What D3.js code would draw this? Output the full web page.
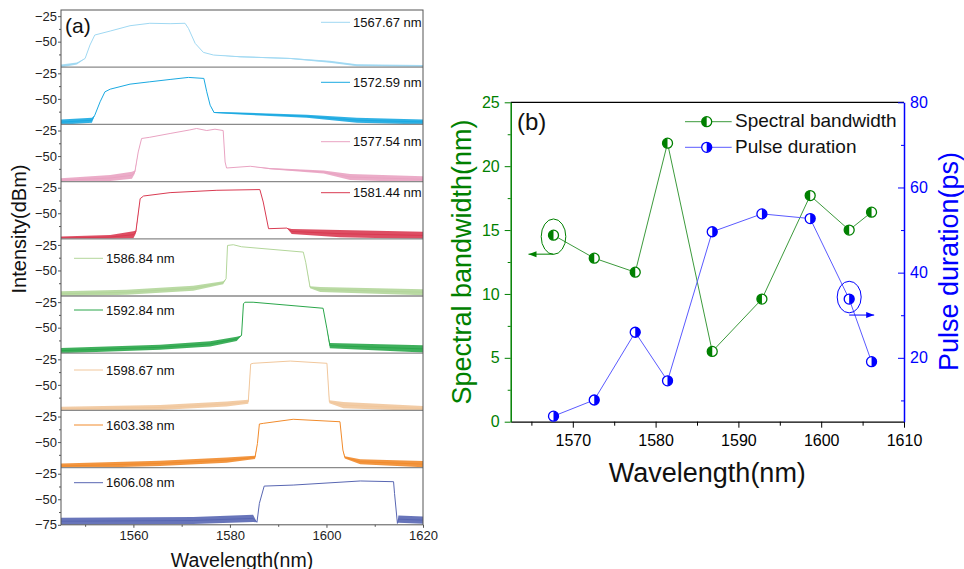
<!DOCTYPE html>
<html>
<head>
<meta charset="utf-8">
<script src="https://cdn.jsdelivr.net/npm/d3@7"></script>
<style>
body { margin: 0; background: #fff; }
svg { font-family: "Liberation Sans", Arial, sans-serif; }
</style>
</head>
<body>
<script>
// (a) spectra: [wavelength (nm), intensity (dBm), noise band width (dB)]
var spec1 = [[1545.0,-73.9,3],[1548.3,-71.3,2],[1550.0,-66.4,0],[1551.0,-53.3,0],[1552.0,-43.5,0],[1555.2,-39.6,0],
  [1559.3,-34.4,0],[1563.4,-32.0,0],[1567.6,-32.4,0],[1570.7,-32.0,0],[1571.4,-37.0,0],[1572.8,-51.7,0],
  [1574.5,-60.5,0],[1576.6,-63.1,0],[1582.1,-64.8,1],[1592.5,-66.4,1],[1600.7,-69.7,2],[1606.3,-73.0,2],[1620.0,-73.9,2]];
var spec2 = [[1545.0,-72.8,5],[1551.4,-70.9,5],[1552.0,-66.0,0],[1553.1,-52.9,0],[1554.1,-43.1,0],[1555.2,-40.5,0],
  [1559.3,-35.6,0],[1563.4,-33.3,0],[1567.6,-31.0,0],[1571.4,-29.0,0],[1574.6,-30.0,0],[1575.2,-43.1,0],
  [1575.9,-56.2,0],[1576.7,-63.3,1],[1582.1,-64.3,2],[1595.9,-67.0,3],[1606.3,-70.9,5],[1620.0,-72.6,5]];
var spec3 = [[1545.0,-73.7,4],[1555.2,-71.5,6],[1559.7,-68.8,7],[1560.3,-65.6,3],[1561.0,-46.0,0],[1561.7,-32.8,0],
  [1563.4,-31.6,0],[1567.6,-27.9,0],[1571.7,-24.4,0],[1573.1,-23.0,0],[1575.2,-25.0,0],[1576.9,-23.7,0],
  [1578.6,-25.0,0],[1579.0,-55.8,0],[1579.3,-61.7,0],[1584.2,-60.0,0],[1588.3,-62.3,1],[1599.4,-65.6,3],
  [1604.9,-70.5,6],[1620.0,-72.8,6]];
var spec4 = [[1545.0,-74.3,3],[1555.2,-73.3,4],[1560.0,-71.0,7],[1560.5,-68.4,3],[1561.4,-35.7,0],[1562.1,-33.1,0],
  [1567.6,-29.8,0],[1577.3,-27.5,0],[1586.2,-26.8,0],[1586.9,-39.0,0],[1588.0,-65.1,0],[1591.8,-64.5,0],
  [1592.8,-67.8,5],[1602.8,-70.0,7],[1620.0,-71.7,7]];
var spec5 = [[1545.0,-72.9,5],[1558.6,-71.3,5],[1572.4,-67.4,5],[1578.6,-62.1,3],[1579.2,-58.1,0],[1579.5,-25.5,0],
  [1580.7,-24.8,0],[1582.4,-26.8,0],[1595.2,-32.0,0],[1595.7,-41.9,0],[1596.6,-66.4,2],[1598.7,-68.6,5],
  [1620.0,-71.3,6]];
var spec6 = [[1545.0,-72.5,5],[1565.5,-69.2,5],[1575.9,-65.9,5],[1581.4,-61.0,4],[1582.4,-57.7,0],[1582.8,-26.7,0],
  [1583.1,-25.1,0],[1584.8,-25.1,0],[1599.3,-31.0,0],[1600.1,-51.2,0],[1600.7,-67.6,5],[1620.0,-70.8,7]];
var spec7 = [[1545.0,-73.5,4],[1565.5,-72.1,5],[1579.3,-68.8,5],[1583.8,-66.6,4],[1584.3,-29.6,0],[1584.8,-28.9,0],
  [1592.5,-26.7,0],[1600.1,-28.9,0],[1600.6,-66.6,3],[1603.5,-69.8,6],[1620.0,-73.1,5]];
var spec8 = [[1545.0,-73.5,5],[1565.5,-70.9,5],[1579.3,-67.7,5],[1585.2,-65.0,3],[1585.7,-51.3,0],[1586.1,-32.3,0],
  [1586.9,-31.7,0],[1593.1,-27.7,0],[1602.8,-30.1,0],[1603.4,-57.8,0],[1603.8,-65.0,2],[1607.0,-69.3,5],
  [1620.0,-71.6,6]];
var spec9 = [[1545.0,-71.5,7],[1572.4,-70.8,7],[1584.8,-68.7,7],[1585.6,-72.5,0],[1586.1,-54.0,0],[1587.1,-37.1,0],
  [1593.1,-36.1,0],[1607.0,-32.1,0],[1613.9,-32.8,0],[1614.1,-44.2,0],[1614.7,-73.6,0],[1614.9,-69.5,7],
  [1620.0,-70.4,7]];
var spectra = [spec1, spec2, spec3, spec4, spec5, spec6, spec7, spec8, spec9];
var specLabels = ["1567.67 nm", "1572.59 nm", "1577.54 nm", "1581.44 nm", "1586.84 nm",
  "1592.84 nm", "1598.67 nm", "1603.38 nm", "1606.08 nm"];
var intensityTicks = [-25, -50];
var intensityMinor = [-37.5, -62.5];
var wlTicksA = [1560, 1580, 1600, 1620];
var wlMinorA = [1550, 1570, 1590, 1610];

// (b) bandwidth and pulse duration against centre wavelength
var centerWl = [1567.67, 1572.59, 1577.54, 1581.44, 1586.84, 1592.84, 1598.67, 1603.38, 1606.08];
var bandwidth = [14.6, 12.8, 11.7, 21.8, 5.5, 9.6, 17.7, 15.0, 16.4];
var pulse = [6.3, 10.1, 26.0, 14.6, 49.6, 53.8, 52.7, 33.8, 19.1];
var bwTicks = [0, 5, 10, 15, 20, 25];
var bwMinor = [2.5, 7.5, 12.5, 17.5, 22.5];
var pulseTicks = [20, 40, 60, 80];
var pulseMinor = [10, 30, 50, 70];
var wlTicksB = [1570, 1580, 1590, 1600, 1610];
var wlMinorB = [1565, 1575, 1585, 1595, 1605];

// styles
var specColors = ["#9fd8f2", "#1aa9e1", "#e9a3c2", "#d93b52", "#b3d69a", "#2aa64a", "#f1c79c", "#f18b2c", "#5866b2"];
var legendRight = [true, true, true, true, false, false, false, false, false];
var legendDy = [12.3, 15.1, 17.3, 11.1, 19.5, 14, 16.8, 14.6, 15.1];
var green = "#008000", blue = "#0000ff";
var fmt = d3.format("d");

var w = 964, h = 569;
var svg = d3.select("body").append("svg").attr("width", w).attr("height", h);
var defs = svg.append("defs");

// ---------- panel (a) ----------
var aLeft = 61, aRight = 423, aTop = 10, panelH = 57.2;
var aBottom = aTop + panelH * spectra.length;
var xA = d3.scaleLinear().domain([1545, 1620]).range([aLeft, aRight]);

function styleTicks(g, size, color) {
  g.selectAll("text").attr("font-size", size).attr("font-family", "Liberation Sans, Arial, sans-serif").attr("fill", color);
  g.selectAll("line").attr("stroke", color);
}

spectra.forEach(function(spec, i) {
  var top = aTop + i * panelH;
  var y = d3.scaleLinear().domain([-75, -19]).range([top + panelH, top]);
  var col = specColors[i];

  defs.append("clipPath").attr("id", "clipA" + i)
    .append("rect").attr("x", aLeft).attr("y", top).attr("width", aRight - aLeft).attr("height", panelH);

  var g = svg.append("g").attr("clip-path", "url(#clipA" + i + ")");
  var band = d3.area()
    .x(function(d) { return xA(d[0]); })
    .y0(function(d) { return y(d[1] - d[2] / 2); })
    .y1(function(d) { return y(d[1] + d[2] / 2); });
  g.append("path").datum(spec).attr("d", band).attr("fill", col).attr("opacity", 0.9);
  var line = d3.line()
    .x(function(d) { return xA(d[0]); })
    .y(function(d) { return y(d[1]); });
  g.append("path").datum(spec).attr("d", line)
    .attr("fill", "none").attr("stroke", col).attr("stroke-width", 1);

  // left axis of this strip
  var ticks = i === spectra.length - 1 ? intensityTicks.concat([-75]) : intensityTicks;
  var ax = svg.append("g").attr("transform", "translate(" + aLeft + ",0)")
    .call(d3.axisLeft(y).tickValues(ticks).tickSize(3).tickPadding(1).tickSizeOuter(0));
  ax.select(".domain").remove();
  styleTicks(ax, 13, "#222");
  ax.selectAll("line").attr("stroke", "#555");
  var mn = svg.append("g").attr("transform", "translate(" + aLeft + ",0)")
    .call(d3.axisLeft(y).tickValues(intensityMinor).tickSize(2).tickFormat(""));
  mn.select(".domain").remove();
  mn.selectAll("line").attr("stroke", "#555");

  // separator on top of each strip
  if (i > 0) {
    svg.append("line").attr("x1", aLeft).attr("x2", aRight).attr("y1", top).attr("y2", top)
      .attr("stroke", "#8a8a8a").attr("stroke-width", 1.3);
  }

  // legend entry
  var ly = top + legendDy[i];
  var lx0 = legendRight[i] ? 321 : 74;
  svg.append("line").attr("x1", lx0).attr("x2", lx0 + 29).attr("y1", ly).attr("y2", ly)
    .attr("stroke", col).attr("stroke-width", 1);
  svg.append("text").attr("x", lx0 + 32).attr("y", ly + 4.6)
    .attr("font-size", 13).attr("fill", "#111").text(specLabels[i]);
});

svg.append("rect").attr("x", aLeft).attr("y", aTop).attr("width", aRight - aLeft).attr("height", aBottom - aTop)
  .attr("fill", "none").attr("stroke", "#555").attr("stroke-width", 1);

var axA = svg.append("g").attr("transform", "translate(0," + aBottom + ")")
  .call(d3.axisBottom(xA).tickValues(wlTicksA).tickFormat(fmt).tickSize(3).tickPadding(3).tickSizeOuter(0));
axA.select(".domain").remove();
styleTicks(axA, 13, "#222");
axA.selectAll("line").attr("stroke", "#555");
var axAm = svg.append("g").attr("transform", "translate(0," + aBottom + ")")
  .call(d3.axisBottom(xA).tickValues(wlMinorA).tickSize(2).tickFormat(""));
axAm.select(".domain").remove();
axAm.selectAll("line").attr("stroke", "#555");

svg.append("text").attr("x", 65).attr("y", 32.5).attr("font-size", 21).attr("fill", "#111").text("(a)");
svg.append("text").attr("x", (aLeft + aRight) / 2).attr("y", 566.5).attr("text-anchor", "middle")
  .attr("font-size", 19.5).attr("fill", "#111").text("Wavelength(nm)");
svg.append("text").attr("transform", "translate(26.3,229) rotate(-90)").attr("text-anchor", "middle")
  .attr("font-size", 20).attr("fill", "#111").text("Intensity(dBm)");

// ---------- panel (b) ----------
var bLeft = 510.7, bRight = 904, bTop = 102.3, bBottom = 421.7;
var xB = d3.scaleLinear().domain([1562.5, 1610]).range([bLeft, bRight]);
var yL = d3.scaleLinear().domain([0, 25]).range([bBottom, bTop]);
var yR = d3.scaleLinear().domain([5, 80]).range([bBottom, bTop]);

svg.append("line").attr("x1", bLeft).attr("x2", bRight).attr("y1", bTop).attr("y2", bTop)
  .attr("stroke", "#000").attr("stroke-width", 1.2);

var axB = svg.append("g").attr("transform", "translate(0," + bBottom + ")")
  .call(d3.axisBottom(xB).tickValues(wlTicksB).tickFormat(fmt).tickSize(6).tickPadding(7).tickSizeOuter(0));
styleTicks(axB, 16, "#000");
axB.select(".domain").attr("stroke", "#000").attr("stroke-width", 1.2);
svg.append("g").attr("transform", "translate(0," + bBottom + ")")
  .call(d3.axisBottom(xB).tickValues(wlMinorB).tickSize(4).tickFormat(""))
  .call(function(g) { g.select(".domain").remove(); });

var axL = svg.append("g").attr("transform", "translate(" + bLeft + ",0)")
  .call(d3.axisLeft(yL).tickValues(bwTicks).tickSize(6).tickPadding(5).tickSizeOuter(0));
styleTicks(axL, 16, green);
axL.select(".domain").attr("stroke", green).attr("stroke-width", 1.5);
var axLm = svg.append("g").attr("transform", "translate(" + bLeft + ",0)")
  .call(d3.axisLeft(yL).tickValues(bwMinor).tickSize(3).tickFormat(""));
axLm.select(".domain").remove();
axLm.selectAll("line").attr("stroke", green);

var axR = svg.append("g").attr("transform", "translate(" + bRight + ",0)")
  .call(d3.axisRight(yR).tickValues(pulseTicks).tickSizeInner(-6).tickPadding(6).tickSizeOuter(0));
styleTicks(axR, 16, blue);
axR.select(".domain").attr("stroke", blue).attr("stroke-width", 1.5);
var axRm = svg.append("g").attr("transform", "translate(" + bRight + ",0)")
  .call(d3.axisRight(yR).tickValues(pulseMinor).tickSizeInner(-3).tickFormat(""));
axRm.select(".domain").remove();
axRm.selectAll("line").attr("stroke", blue);

// lines
var bwLine = d3.line().x(function(d, i) { return xB(centerWl[i]); }).y(function(d) { return yL(d); });
var puLine = d3.line().x(function(d, i) { return xB(centerWl[i]); }).y(function(d) { return yR(d); });
svg.append("path").datum(bandwidth).attr("d", bwLine).attr("fill", "none").attr("stroke", "#3c9a3c").attr("stroke-width", 1);
svg.append("path").datum(pulse).attr("d", puLine).attr("fill", "none").attr("stroke", "#5a5aff").attr("stroke-width", 1);

function halfMarker(x, y, color, leftFilled) {
  var r = 5;
  var g = svg.append("g");
  g.append("circle").attr("cx", x).attr("cy", y).attr("r", r).attr("fill", "#fff");
  g.append("path")
    .attr("d", "M" + x + "," + (y - r) + " A" + r + "," + r + " 0 0 " + (leftFilled ? 0 : 1) + " " + x + "," + (y + r) + " Z")
    .attr("fill", color);
  g.append("circle").attr("cx", x).attr("cy", y).attr("r", r).attr("fill", "none")
    .attr("stroke", color).attr("stroke-width", 1.3);
}
bandwidth.forEach(function(d, i) { halfMarker(xB(centerWl[i]), yL(d), green, true); });
pulse.forEach(function(d, i) { halfMarker(xB(centerWl[i]), yR(d), blue, false); });

// arrows pointing to the axes
function arrowHead(id, color) {
  defs.append("marker").attr("id", id).attr("markerUnits", "userSpaceOnUse")
    .attr("markerWidth", 10).attr("markerHeight", 8).attr("refX", 8).attr("refY", 4).attr("orient", "auto")
    .append("path").attr("d", "M0,1 L8,4 L0,7 Z").attr("fill", color);
}
arrowHead("arrG", green);
arrowHead("arrB", blue);

var gx = xB(centerWl[0]), gy = yL(bandwidth[0]);
svg.append("ellipse").attr("cx", gx).attr("cy", gy + 1.5).attr("rx", 12.3).attr("ry", 17.7)
  .attr("fill", "none").attr("stroke", green).attr("stroke-width", 1);
svg.append("line").attr("x1", gx).attr("x2", gx - 25).attr("y1", gy + 19).attr("y2", gy + 19)
  .attr("stroke", green).attr("stroke-width", 1).attr("marker-end", "url(#arrG)");

var px = xB(centerWl[7]), py = yR(pulse[7]);
svg.append("ellipse").attr("cx", px).attr("cy", py - 2).attr("rx", 12).attr("ry", 15.8)
  .attr("fill", "none").attr("stroke", blue).attr("stroke-width", 1);
svg.append("line").attr("x1", px).attr("x2", px + 25).attr("y1", py + 16).attr("y2", py + 16)
  .attr("stroke", blue).attr("stroke-width", 1).attr("marker-end", "url(#arrB)");

// legend
var legItems = [
  { label: "Spectral bandwidth", color: green, line: "#3c9a3c", left: true, y: 121.7, base: 126.6 },
  { label: "Pulse duration", color: blue, line: "#5a5aff", left: false, y: 147.3, base: 152.7 }
];
legItems.forEach(function(d) {
  svg.append("line").attr("x1", 685).attr("x2", 731.7).attr("y1", d.y).attr("y2", d.y)
    .attr("stroke", d.line).attr("stroke-width", 1);
  halfMarker(706.7, d.y, d.color, d.left);
  svg.append("text").attr("x", 735).attr("y", d.base).attr("font-size", 19).attr("fill", "#111").text(d.label);
});

svg.append("text").attr("x", 517).attr("y", 130).attr("font-size", 24).attr("fill", "#111").text("(b)");
svg.append("text").attr("x", (bLeft + bRight) / 2).attr("y", 482).attr("text-anchor", "middle")
  .attr("font-size", 27).attr("fill", "#111").text("Wavelength(nm)");
svg.append("text").attr("transform", "translate(471.4,262) rotate(-90)").attr("text-anchor", "middle")
  .attr("font-size", 27).attr("fill", green).text("Spectral bandwidth(nm)");
svg.append("text").attr("transform", "translate(957.7,261.5) rotate(-90)").attr("text-anchor", "middle")
  .attr("font-size", 27).attr("fill", blue).text("Pulse duration(ps)");
</script>
</body>
</html>
